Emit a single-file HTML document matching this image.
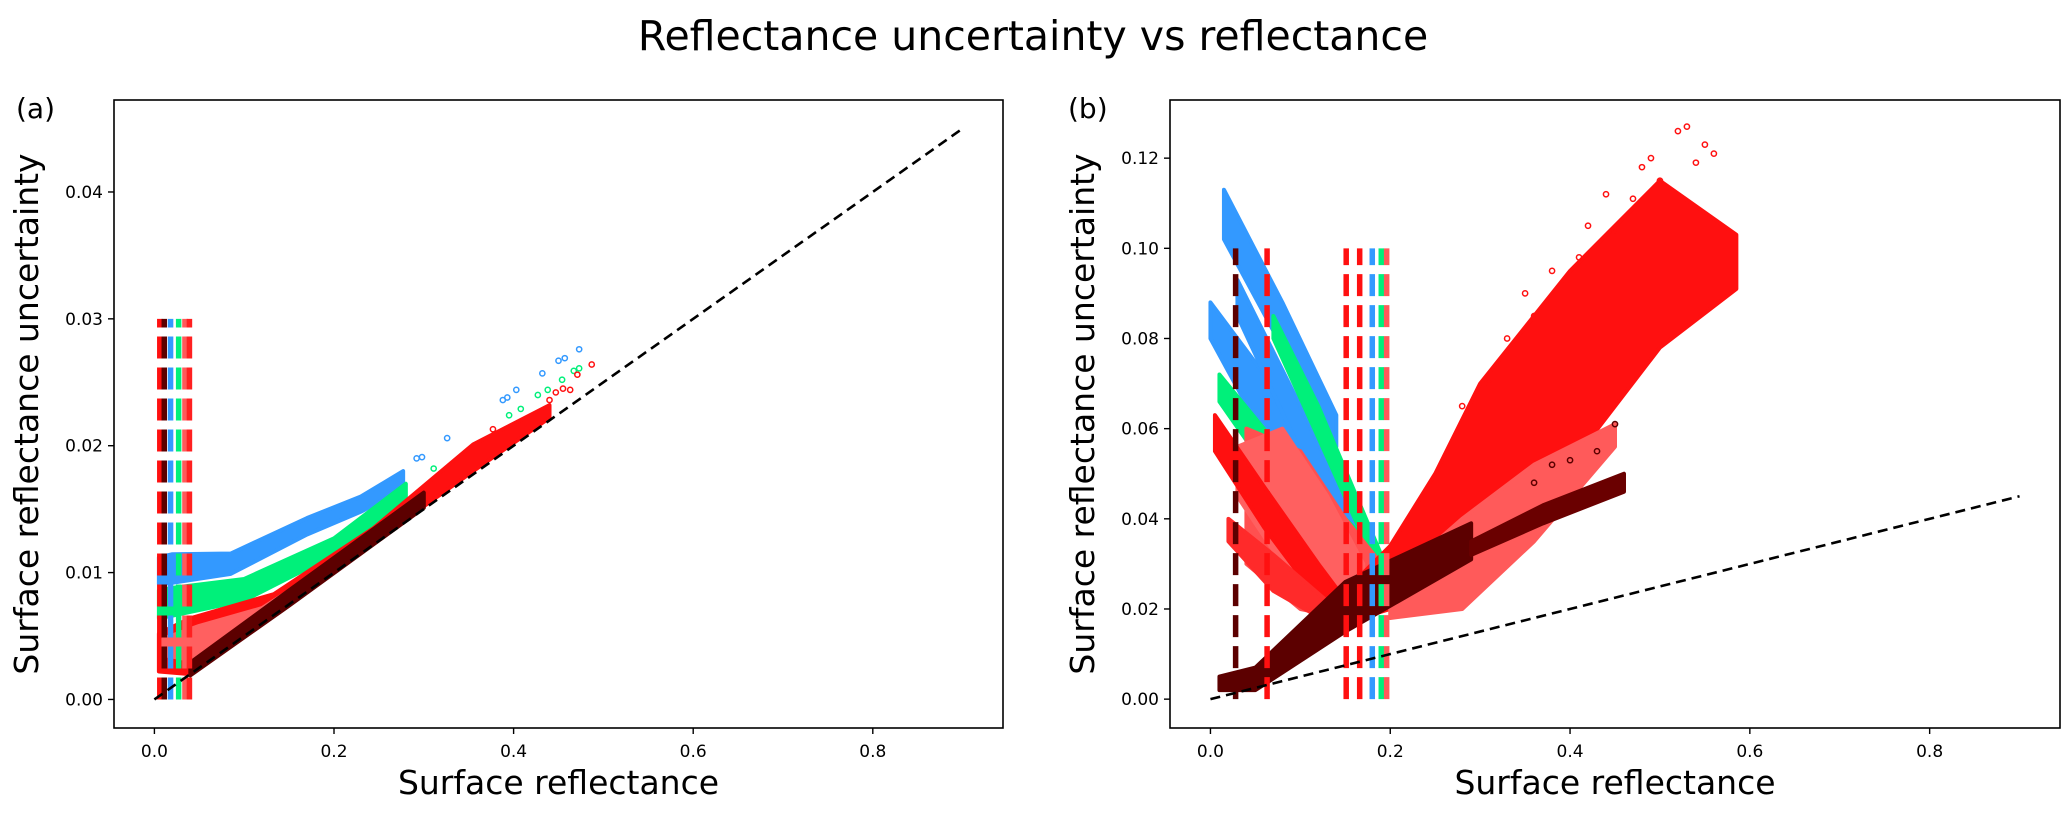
<!DOCTYPE html>
<html><head><meta charset="utf-8"><style>
html,body{margin:0;padding:0;background:#fff;}
svg{display:block;font-family:"DejaVu Sans","Liberation Sans",sans-serif;}
</style></head><body>
<svg id="fig" width="2067" height="814" viewBox="0 0 2067 814" xmlns="http://www.w3.org/2000/svg">
<text x="1033" y="50" font-size="41" text-anchor="middle" fill="#000">Reflectance uncertainty vs reflectance</text>
<text x="16" y="118" font-size="28" fill="#000">(a)</text>
<text x="1068" y="118" font-size="28" fill="#000">(b)</text>
<g id="pa"></g>
<g id="pb"></g>
</svg>
<script>
const NS='http://www.w3.org/2000/svg';
// ---- panel (a) data ----
const aTicksX=[0.0,0.2,0.4,0.6,0.8];
const aTicksY=[0.00,0.01,0.02,0.03,0.04];
const aTickLabelsY=['0.00','0.01','0.02','0.03','0.04'];
const aBlueX=[0.005,0.02,0.085,0.17,0.23,0.277];
const aBlueLo=[0.0091,0.0092,0.0099,0.013,0.0148,0.0166];
const aBlueHi=[0.0112,0.01145,0.0115,0.0143,0.016,0.018];
const aGreenX=[0.005,0.02,0.1,0.2,0.28];
const aGreenLo=[0.0064,0.0066,0.0078,0.0114,0.0156];
const aGreenHi=[0.0086,0.0088,0.0095,0.0127,0.017];
const aRedX=[0.005,0.04,0.133,0.244,0.355,0.44];
const aRedLo=[0.0022,0.002,0.0069,0.0124,0.018,0.0222];
const aRedHi=[0.0052,0.0064,0.0083,0.0135,0.0201,0.0232];
const aSalmonX=[0.01,0.05,0.12,0.2];
const aSalmonLo=[0.0035,0.003,0.0063,0.0102];
const aSalmonHi=[0.0048,0.0058,0.0072,0.0108];
const aDarkX=[0.04,0.15,0.3];
const aDarkLo=[0.0019,0.0074,0.0151];
const aDarkHi=[0.0029,0.0086,0.0163];
const aBlueOutX=[0.473,0.457,0.45,0.432,0.403,0.393,0.388,0.326,0.298,0.292];
const aBlueOutY=[0.0276,0.0269,0.0267,0.0257,0.0244,0.0238,0.0236,0.0206,0.0191,0.019];
const aGreenOutX=[0.473,0.467,0.454,0.438,0.427,0.408,0.395,0.311];
const aGreenOutY=[0.0261,0.0259,0.0252,0.0244,0.024,0.0229,0.0224,0.0182];
const aRedOutX=[0.487,0.471,0.463,0.447,0.377,0.455,0.44];
const aRedOutY=[0.0264,0.0256,0.0244,0.0242,0.0213,0.0245,0.0236];
const aVLinesX=[0.006,0.011,0.018,0.027,0.034,0.039];
const aVLinesColor=['#ff1010','#5c0000','#3399ff','#00f07a','#ff5a5a','#ff2020'];
const aVLineTop=0.03;
const diagX=[0.0,0.9];
const diagY=[0.0,0.045];
// ---- panel (b) data ----
const bTicksX=[0.0,0.2,0.4,0.6,0.8];
const bTicksY=[0.00,0.02,0.04,0.06,0.08,0.10,0.12];
const bTickLabelsY=['0.00','0.02','0.04','0.06','0.08','0.10','0.12'];
const bBandsX=[
 [0.0,0.06,0.12,0.18],
 [0.015,0.08,0.14],
 [0.03,0.1,0.16],
 [0.01,0.08,0.15,0.2],
 [0.07,0.12,0.19],
 [0.04,0.1,0.15,0.19],
 [0.03,0.08,0.13,0.17],
 [0.005,0.06,0.12,0.15],
 [0.02,0.07,0.14],
 [0.15,0.2,0.25,0.3,0.4,0.5,0.585],
 [0.2,0.28,0.36,0.45],
 [0.01,0.05,0.15,0.29],
 [0.29,0.37,0.46]
];
const bBandsLo=[
 [0.080,0.058,0.038,0.025],
 [0.102,0.078,0.056],
 [0.085,0.055,0.034],
 [0.066,0.046,0.032,0.025],
 [0.08,0.058,0.027],
 [0.03,0.02,0.018,0.02],
 [0.045,0.03,0.02,0.018],
 [0.055,0.038,0.022,0.018],
 [0.035,0.024,0.016],
 [0.017,0.02,0.022,0.028,0.052,0.078,0.091],
 [0.018,0.02,0.035,0.056],
 [0.002,0.002,0.015,0.031],
 [0.032,0.039,0.046]
];
const bBandsHi=[
 [0.088,0.072,0.05,0.03],
 [0.113,0.088,0.063],
 [0.093,0.065,0.04],
 [0.072,0.055,0.04,0.03],
 [0.085,0.065,0.032],
 [0.06,0.055,0.04,0.03],
 [0.056,0.06,0.045,0.03],
 [0.063,0.047,0.03,0.022],
 [0.04,0.032,0.02],
 [0.024,0.034,0.05,0.07,0.095,0.115,0.103],
 [0.026,0.04,0.052,0.061],
 [0.005,0.007,0.026,0.039],
 [0.035,0.043,0.05]
];
const bBandsColor=['#3399ff','#3399ff','#3399ff','#00f07a','#00f07a','#ff5050','#ff6060','#ff1010','#ff2a2a','#ff1010','#ff5a5a','#5c0000','#6a0000'];
const bRedOutX=[0.47,0.52,0.53,0.55,0.44,0.41,0.35,0.33,0.49,0.5,0.38,0.31,0.28,0.45,0.48,0.42,0.36,0.54,0.56];
const bRedOutY=[0.111,0.126,0.127,0.123,0.112,0.098,0.09,0.08,0.12,0.115,0.095,0.07,0.065,0.104,0.118,0.105,0.085,0.119,0.121];
const bDarkOutX=[0.45,0.43,0.38,0.4,0.36];
const bDarkOutY=[0.061,0.055,0.052,0.053,0.048];
const bVLinesX=[0.028,0.063,0.151,0.166,0.18,0.19,0.196];
const bVLinesColor=['#5c0000','#ff1010','#ff1010','#ff1010','#3399ff','#00f07a','#ff5a5a'];
const bVLineTop=0.10;

function mk(parent,tag,attrs){const e=document.createElementNS(NS,tag);for(const k in attrs)e.setAttribute(k,attrs[k]);parent.appendChild(e);return e;}
function scales(L,R,T,B,xmin,xmax,ymin,ymax){
  const X=v=>L+(v-xmin)/(xmax-xmin)*(R-L);
  const Y=v=>B-(v-ymin)/(ymax-ymin)*(B-T);
  return {X,Y};
}
function drawAxes(g,L,R,T,B,X,Y,tx,ty,tyl,prefix){
  const box=mk(g,'rect',{x:L,y:T,width:R-L,height:B-T,fill:'none',stroke:'#000','stroke-width':1.6});
  
  
  tx.forEach(v=>{
    const t=mk(g,'line',{x1:X(v),x2:X(v),y1:B,y2:B+6,stroke:'#000','stroke-width':1.4});
    
    
    const l=mk(g,'text',{x:X(v),y:B+29,'font-size':17,'text-anchor':'middle',fill:'#000'});
    l.textContent=v.toFixed(1);
    
    
  });
  ty.forEach((v,i)=>{
    const t=mk(g,'line',{x1:L-6,x2:L,y1:Y(v),y2:Y(v),stroke:'#000','stroke-width':1.4});
    
    
    const l=mk(g,'text',{x:L-11,y:Y(v)+6,'font-size':17,'text-anchor':'end',fill:'#000'});
    l.textContent=tyl[i];
    
    
  });
  const xl=mk(g,'text',{x:(L+R)/2,y:B+66,'font-size':33,'text-anchor':'middle',fill:'#000'});
  xl.textContent='Surface reflectance';
  
  
  const cx=L-76, cy=(T+B)/2;
  const yl=mk(g,'text',{x:cx,y:cy,'font-size':33,'text-anchor':'middle',fill:'#000',transform:`rotate(-90 ${cx} ${cy})`});
  yl.textContent='Surface reflectance uncertainty';
  
  
}
function band(g,X,Y,xs,lo,hi,color,name){
  let pts=xs.map((x,i)=>X(x)+','+Y(hi[i]));
  for(let i=xs.length-1;i>=0;i--)pts.push(X(xs[i])+','+Y(lo[i]));
  const p=mk(g,'polygon',{points:pts.join(' '),fill:color,stroke:color,'stroke-width':4,'stroke-linejoin':'round'});
  
  
}
function dots(g,X,Y,xs,ys,color,name){
  xs.forEach((x,i)=>{
    const c=mk(g,'circle',{cx:X(x),cy:Y(ys[i]),r:2.6,fill:'none',stroke:color,'stroke-width':1.5});
    
    
  });
}
function vlines(g,X,Y,xs,cols,top,name){
  xs.forEach((x,i)=>{
    const l=mk(g,'line',{x1:X(x),x2:X(x),y1:Y(0),y2:Y(top),stroke:cols[i],'stroke-width':5.5,'stroke-dasharray':'22 9'});
    
    
  });
}
function diag(g,X,Y,name){
  const l=mk(g,'line',{x1:X(diagX[0]),y1:Y(diagY[0]),x2:X(diagX[1]),y2:Y(diagY[1]),stroke:'#000','stroke-width':2.6,'stroke-dasharray':'10 6'});
  
  
}

(function(){
  const g=document.getElementById('pa');
  const L=114,R=1003,T=100,B=728;
  const {X,Y}=scales(L,R,T,B,-0.045,0.945,-0.00225,0.04725);
  band(g,X,Y,aBlueX,aBlueLo,aBlueHi,'#3399ff','blue-series-band');
  band(g,X,Y,aGreenX,aGreenLo,aGreenHi,'#00f07a','green-series-band');
  band(g,X,Y,aRedX,aRedLo,aRedHi,'#ff1010','red-series-band');
  band(g,X,Y,aSalmonX,aSalmonLo,aSalmonHi,'#ff6060','salmon-series-band');
  band(g,X,Y,aDarkX,aDarkLo,aDarkHi,'#5c0000','dark-red-series-band');
  dots(g,X,Y,aBlueOutX,aBlueOutY,'#3399ff','blue-outlier-point');
  dots(g,X,Y,aGreenOutX,aGreenOutY,'#00f07a','green-outlier-point');
  dots(g,X,Y,aRedOutX,aRedOutY,'#ff1010','red-outlier-point');
  vlines(g,X,Y,aVLinesX,aVLinesColor,aVLineTop,'threshold-dashed-line');
  diag(g,X,Y,'reference-dashed-line');
  drawAxes(g,L,R,T,B,X,Y,aTicksX,aTicksY,aTickLabelsY,'panel-a');
})();
(function(){
  const g=document.getElementById('pb');
  const L=1170,R=2060,T=100,B=728;
  const {X,Y}=scales(L,R,T,B,-0.045,0.945,-0.0064,0.1329);
  bBandsX.forEach((xs,i)=>band(g,X,Y,xs,bBandsLo[i],bBandsHi[i],bBandsColor[i],'series-band'));
  dots(g,X,Y,bRedOutX,bRedOutY,'#ff1010','red-outlier-point');
  dots(g,X,Y,bDarkOutX,bDarkOutY,'#5c0000','dark-red-outlier-point');
  vlines(g,X,Y,bVLinesX,bVLinesColor,bVLineTop,'threshold-dashed-line');
  diag(g,X,Y,'reference-dashed-line');
  drawAxes(g,L,R,T,B,X,Y,bTicksX,bTicksY,bTickLabelsY,'panel-b');
})();
</script>
</body></html>
